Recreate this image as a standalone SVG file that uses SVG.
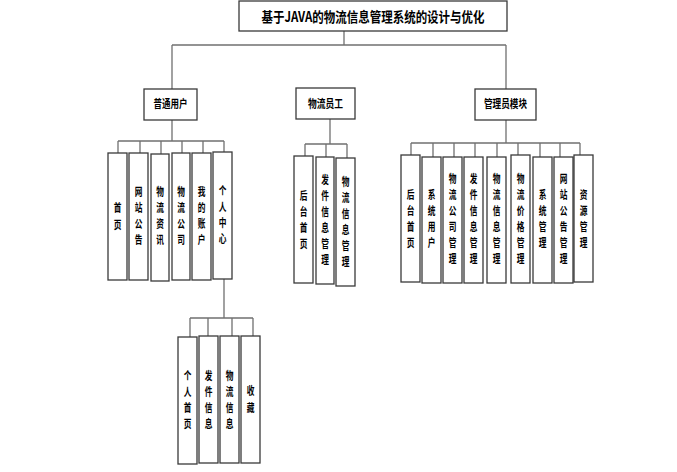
<svg xmlns="http://www.w3.org/2000/svg" width="677" height="472" viewBox="0 0 677 472">
<style>
.b{fill:#fff;stroke:#3a3a3a;stroke-width:1.3}
.c{fill:none;stroke:#707070;stroke-width:1.3}
.t{font-family:"Noto Sans CJK SC","Liberation Sans",sans-serif;font-weight:bold;fill:#000;text-anchor:middle}
.h{font-size:11px}
.v{font-size:11px}
</style>
<rect width="677" height="472" fill="#fff"/>
<g id="connectors" class="c">
<path d="M344 31V45M172 45H506M172 45V89M506 45V89"/>
<path d="M172 120V141M118 141H224M118 141V153M140 141V153M161 141V154M182 141V153M203 141V153M224 141V152"/>
<path d="M224 279V318M190 318H253M190 318V337M208 318V336M232 318V336M253 318V336"/>
<path d="M330 119V144M305 144H347M305 144V156M326 144V157M347 144V158"/>
<path d="M506 120V143M411 143H580M411 143V155M433 143V157M454 143V157M475 143V157M497 143V157M518 143V155M540 143V157M560 143V157M580 143V155"/>
</g>
<g id="title"><rect class="b" x="239" y="1" width="268" height="30"/><text class="t" x="373" y="22" font-size="14" textLength="223" lengthAdjust="spacingAndGlyphs">基于JAVA的物流信息管理系统的设计与优化</text></g>
<g id="user"><rect class="b" x="144" y="89" width="53" height="31"/><text class="t h" x="170.5" y="108" textLength="34" lengthAdjust="spacingAndGlyphs">普通用户</text></g>
<g id="staff"><rect class="b" x="296" y="88" width="59" height="31"/><text class="t h" x="325.5" y="108" textLength="35" lengthAdjust="spacingAndGlyphs">物流员工</text></g>
<g id="admin"><rect class="b" x="475" y="89" width="61" height="31"/><text class="t h" x="505.5" y="108" textLength="43" lengthAdjust="spacingAndGlyphs">管理员模块</text></g>

<g id="u1"><rect class="b" x="108" y="153" width="19" height="127"/><text class="t v" transform="matrix(0.7 0 0 1 35.25 0)"><tspan x="117.5" y="212.5">首</tspan><tspan x="117.5" y="229.5">页</tspan></text></g>
<g id="u2"><rect class="b" x="129" y="153" width="19" height="127"/><text class="t v" transform="matrix(0.7 0 0 1 41.55 0)"><tspan x="138.5" y="196.5">网</tspan><tspan x="138.5" y="212.5">站</tspan><tspan x="138.5" y="228.5">公</tspan><tspan x="138.5" y="244.5">告</tspan></text></g>
<g id="u3"><rect class="b" x="151" y="154" width="18" height="127"/><text class="t v" transform="matrix(0.7 0 0 1 48 0)"><tspan x="160" y="196.5">物</tspan><tspan x="160" y="212.5">流</tspan><tspan x="160" y="228.5">资</tspan><tspan x="160" y="244.5">讯</tspan></text></g>
<g id="u4"><rect class="b" x="172" y="153" width="18" height="127"/><text class="t v" transform="matrix(0.7 0 0 1 54.3 0)"><tspan x="181" y="196.5">物</tspan><tspan x="181" y="212.5">流</tspan><tspan x="181" y="228.5">公</tspan><tspan x="181" y="244.5">司</tspan></text></g>
<g id="u5"><rect class="b" x="192" y="153" width="19" height="127"/><text class="t v" transform="matrix(0.7 0 0 1 60.45 0)"><tspan x="201.5" y="196.5">我</tspan><tspan x="201.5" y="212.5">的</tspan><tspan x="201.5" y="228.5">账</tspan><tspan x="201.5" y="244.5">户</tspan></text></g>
<g id="u6"><rect class="b" x="213" y="152" width="19" height="127"/><text class="t v" transform="matrix(0.7 0 0 1 66.75 0)"><tspan x="222.5" y="195.5">个</tspan><tspan x="222.5" y="211.5">人</tspan><tspan x="222.5" y="227.5">中</tspan><tspan x="222.5" y="243.5">心</tspan></text></g>

<g id="p1"><rect class="b" x="178" y="337" width="19" height="127"/><text class="t v" transform="matrix(0.7 0 0 1 56.25 0)"><tspan x="187.5" y="380.5">个</tspan><tspan x="187.5" y="396.5">人</tspan><tspan x="187.5" y="412.5">首</tspan><tspan x="187.5" y="428.5">页</tspan></text></g>
<g id="p2"><rect class="b" x="199" y="336" width="19" height="127"/><text class="t v" transform="matrix(0.7 0 0 1 62.55 0)"><tspan x="208.5" y="380.5">发</tspan><tspan x="208.5" y="396.5">件</tspan><tspan x="208.5" y="412.5">信</tspan><tspan x="208.5" y="428.5">息</tspan></text></g>
<g id="p3"><rect class="b" x="220" y="336" width="19" height="127"/><text class="t v" transform="matrix(0.7 0 0 1 68.85 0)"><tspan x="229.5" y="380.5">物</tspan><tspan x="229.5" y="396.5">流</tspan><tspan x="229.5" y="412.5">信</tspan><tspan x="229.5" y="428.5">息</tspan></text></g>
<g id="p4"><rect class="b" x="241" y="336" width="19" height="127"/><text class="t v" transform="matrix(0.7 0 0 1 75.15 0)"><tspan x="250.5" y="395.5">收</tspan><tspan x="250.5" y="412.5">藏</tspan></text></g>

<g id="s1"><rect class="b" x="294" y="156" width="19" height="127"/><text class="t v" transform="matrix(0.7 0 0 1 91.05 0)"><tspan x="303.5" y="200">后</tspan><tspan x="303.5" y="216">台</tspan><tspan x="303.5" y="232">首</tspan><tspan x="303.5" y="248">页</tspan></text></g>
<g id="s2"><rect class="b" x="316" y="157" width="18" height="127"/><text class="t v" transform="matrix(0.7 0 0 1 97.5 0)"><tspan x="325" y="184">发</tspan><tspan x="325" y="200">件</tspan><tspan x="325" y="216">信</tspan><tspan x="325" y="232">息</tspan><tspan x="325" y="248">管</tspan><tspan x="325" y="264">理</tspan></text></g>
<g id="s3"><rect class="b" x="336" y="158" width="19" height="128"/><text class="t v" transform="matrix(0.7 0 0 1 103.65 0)"><tspan x="345.5" y="186">物</tspan><tspan x="345.5" y="202">流</tspan><tspan x="345.5" y="218">信</tspan><tspan x="345.5" y="234">息</tspan><tspan x="345.5" y="250">管</tspan><tspan x="345.5" y="266">理</tspan></text></g>

<g id="a1"><rect class="b" x="401" y="155" width="19" height="127"/><text class="t v" transform="matrix(0.7 0 0 1 123.15 0)"><tspan x="410.5" y="199.5">后</tspan><tspan x="410.5" y="215.5">台</tspan><tspan x="410.5" y="231.5">首</tspan><tspan x="410.5" y="247.5">页</tspan></text></g>
<g id="a2"><rect class="b" x="422" y="157" width="19" height="126"/><text class="t v" transform="matrix(0.7 0 0 1 129.45 0)"><tspan x="431.5" y="199.5">系</tspan><tspan x="431.5" y="215.5">统</tspan><tspan x="431.5" y="231.5">用</tspan><tspan x="431.5" y="247.5">户</tspan></text></g>
<g id="a3"><rect class="b" x="443" y="157" width="19" height="126"/><text class="t v" transform="matrix(0.7 0 0 1 135.75 0)"><tspan x="452.5" y="183.5">物</tspan><tspan x="452.5" y="199.5">流</tspan><tspan x="452.5" y="215.5">公</tspan><tspan x="452.5" y="231.5">司</tspan><tspan x="452.5" y="247.5">管</tspan><tspan x="452.5" y="263.5">理</tspan></text></g>
<g id="a4"><rect class="b" x="464" y="157" width="19" height="126"/><text class="t v" transform="matrix(0.7 0 0 1 142.05 0)"><tspan x="473.5" y="183.5">发</tspan><tspan x="473.5" y="199.5">件</tspan><tspan x="473.5" y="215.5">信</tspan><tspan x="473.5" y="231.5">息</tspan><tspan x="473.5" y="247.5">管</tspan><tspan x="473.5" y="263.5">理</tspan></text></g>
<g id="a5"><rect class="b" x="487" y="157" width="19" height="126"/><text class="t v" transform="matrix(0.7 0 0 1 148.95 0)"><tspan x="496.5" y="183.5">物</tspan><tspan x="496.5" y="199.5">流</tspan><tspan x="496.5" y="215.5">信</tspan><tspan x="496.5" y="231.5">息</tspan><tspan x="496.5" y="247.5">管</tspan><tspan x="496.5" y="263.5">理</tspan></text></g>
<g id="a6"><rect class="b" x="511" y="155" width="19" height="128"/><text class="t v" transform="matrix(0.7 0 0 1 156.15 0)"><tspan x="520.5" y="183.5">物</tspan><tspan x="520.5" y="199.5">流</tspan><tspan x="520.5" y="215.5">价</tspan><tspan x="520.5" y="231.5">格</tspan><tspan x="520.5" y="247.5">管</tspan><tspan x="520.5" y="263.5">理</tspan></text></g>
<g id="a7"><rect class="b" x="533" y="157" width="19" height="126"/><text class="t v" transform="matrix(0.7 0 0 1 162.75 0)"><tspan x="542.5" y="199.5">系</tspan><tspan x="542.5" y="215.5">统</tspan><tspan x="542.5" y="231.5">管</tspan><tspan x="542.5" y="247.5">理</tspan></text></g>
<g id="a8"><rect class="b" x="554" y="157" width="19" height="126"/><text class="t v" transform="matrix(0.7 0 0 1 169.05 0)"><tspan x="563.5" y="183.5">网</tspan><tspan x="563.5" y="199.5">站</tspan><tspan x="563.5" y="215.5">公</tspan><tspan x="563.5" y="231.5">告</tspan><tspan x="563.5" y="247.5">管</tspan><tspan x="563.5" y="263.5">理</tspan></text></g>
<g id="a9"><rect class="b" x="574" y="155" width="19" height="127"/><text class="t v" transform="matrix(0.7 0 0 1 175.05 0)"><tspan x="583.5" y="199.5">资</tspan><tspan x="583.5" y="215.5">源</tspan><tspan x="583.5" y="231.5">管</tspan><tspan x="583.5" y="247.5">理</tspan></text></g>
</svg>
